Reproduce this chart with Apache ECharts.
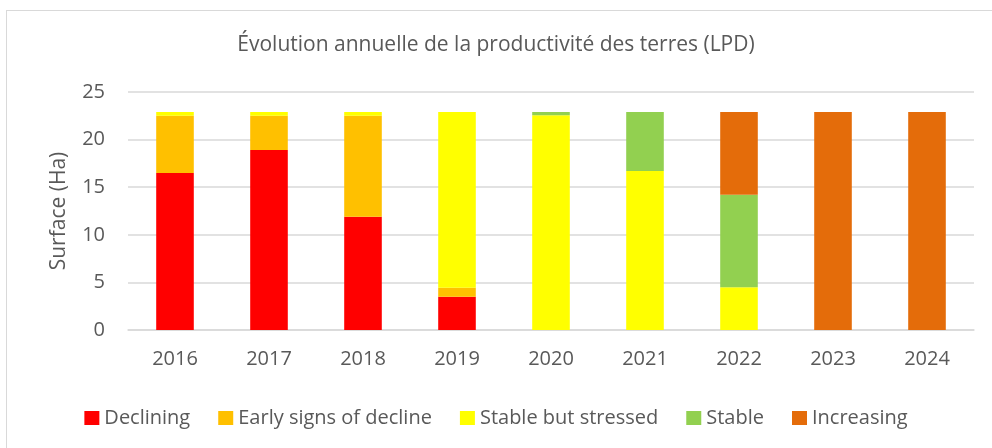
<!DOCTYPE html>
<html>
<head>
<meta charset="utf-8">
<script src="https://cdn.jsdelivr.net/npm/echarts@6/dist/echarts.min.js"></script>
<style>
  html, body { margin: 0; padding: 0; background: #fff; }
  #frame { position: absolute; left: 6px; top: 10px; width: 990px; height: 450px; border: 1px solid #d9d9d9; box-sizing: border-box; }
  #chart { position: absolute; left: 0; top: 0; width: 992px; height: 448px; }
</style>
</head>
<body>
<div id="frame"></div>
<div id="chart"></div>
<script>
const annees = ["2016", "2017", "2018", "2019", "2020", "2021", "2022", "2023", "2024"];
const declining = [16.5, 18.9, 11.9, 3.5, 0, 0, 0, 0, 0];
const earlySigns = [6.0, 3.6, 10.6, 0.95, 0, 0, 0, 0, 0];
const stableStressed = [0.4, 0.4, 0.4, 18.45, 22.55, 16.7, 4.5, 0, 0];
const stable = [0, 0, 0, 0, 0.35, 6.2, 9.7, 0, 0];
const increasing = [0, 0, 0, 0, 0, 0, 8.7, 22.9, 22.9];
const yTicks = [0, 5, 10, 15, 20, 25];

const police = "'Open Sans', sans-serif";
const gris = "#595959";

const myChart = echarts.init(document.getElementById("chart"));

const serie = (nom, valeurs, couleur) => ({
  name: nom,
  type: "bar",
  stack: "total",
  data: valeurs,
  barWidth: "40%",
  itemStyle: { color: couleur },
});

myChart.setOption({
  animation: false,
  title: {
    text: "Évolution annuelle de la productivité des terres (LPD)",
    left: "center",
    top: 30,
    textStyle: { fontFamily: police, fontSize: 21, fontWeight: "normal", color: gris },
  },
  legend: {
    top: 403,
    left: "center",
    itemWidth: 15,
    itemHeight: 14,
    itemGap: 28,
    icon: "rect",
    textStyle: { fontFamily: police, fontSize: 20, color: gris },
  },
  grid: { left: 128, right: 18, top: 92, bottom: 118 },
  xAxis: {
    type: "category",
    data: annees,
    axisLine: { lineStyle: { color: "#d9d9d9", width: 1.5 } },
    axisTick: { show: false },
    axisLabel: { fontFamily: police, fontSize: 20, color: gris, margin: 19 },
  },
  yAxis: {
    type: "value",
    min: yTicks[0],
    max: yTicks[yTicks.length - 1],
    interval: 5,
    name: "Surface (Ha)",
    nameLocation: "middle",
    nameGap: 58,
    nameTextStyle: { fontFamily: police, fontSize: 21, color: gris },
    axisLabel: { fontFamily: police, fontSize: 20, color: gris, margin: 23 },
    splitLine: { lineStyle: { color: "#d9d9d9", width: 1.5 } },
  },
  series: [
    serie("Declining", declining, "#ff0000"),
    serie("Early signs of decline", earlySigns, "#ffc000"),
    serie("Stable but stressed", stableStressed, "#ffff00"),
    serie("Stable", stable, "#92d050"),
    serie("Increasing", increasing, "#e46c0a"),
  ],
});
</script>
</body>
</html>
